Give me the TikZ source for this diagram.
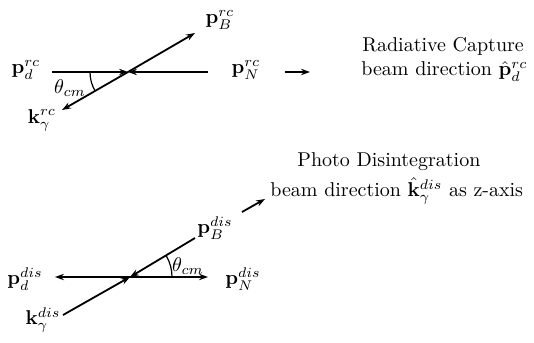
\documentclass[tikz,border=0pt]{standalone}
\usetikzlibrary{arrows.meta,calc}
\begin{document}
\begin{tikzpicture}[x=0.5pt,y=0.5pt,
  vec/.style={line width=0.9pt,-{Stealth[length=4.5pt,width=3.2pt]}},
  ln/.style={line width=0.9pt},
  arcline/.style={line width=0.6pt},
  lbl/.style={inner sep=0pt},
  txt/.style={inner sep=0pt,anchor=base west}]
\useasboundingbox (0,0) rectangle (534,342);
% ---- top: radiative capture
\coordinate (C1) at (128,270);
\coordinate (L1) at (52,270);
\coordinate (R1) at (208,270);
\coordinate (B1) at (195,309);
\coordinate (K1) at (62,232);
\draw[vec] (L1) -- (C1);
\draw[vec] (R1) -- (C1);
\draw[vec] (C1) -- (B1);
\draw[vec] (C1) -- (K1);
\draw[arcline] ($(C1)+(-38,0)$) arc[start angle=180,end angle=210,radius=38];
\node[lbl] (pd1) at (26,272) {$\mathbf{p}_d^{rc}$};
\node[lbl] (pN1) at (246,272) {$\mathbf{p}_N^{rc}$};
\node[lbl] (pB1) at (220,322) {$\mathbf{p}_B^{rc}$};
\node[lbl] (kg1) at (42,222) {$\mathbf{k}_\gamma^{rc}$};
\node[lbl] (th1) at (70,254) {$\theta_{cm}$};
\coordinate (A1s) at (285,270);
\coordinate (A1e) at (310,270);
\draw[vec] (A1s) -- (A1e);
\node[txt] (t1a) at (362,290) {Radiative Capture};
\node[txt] (t1b) at (361,266) {beam direction $\hat{\mathbf{p}}_d^{rc}$};
% ---- bottom: photo disintegration
\coordinate (C2) at (130,65);
\coordinate (L2) at (55,65);
\coordinate (R2) at (208,65);
\coordinate (B2) at (195,104);
\coordinate (K2) at (63,27);
\draw[vec] (C2) -- (L2);
\draw[vec] (C2) -- (R2);
\draw[vec] (B2) -- (C2);
\draw[vec] (K2) -- (C2);
\draw[arcline] ($(C2)+(42,0)$) arc[start angle=0,end angle=30,radius=42];
\node[lbl] (pd2) at (25,63) {$\mathbf{p}_d^{dis}$};
\node[lbl] (pN2) at (243,63) {$\mathbf{p}_N^{dis}$};
\node[lbl] (pB2) at (215,114) {$\mathbf{p}_B^{dis}$};
\node[lbl] (kg2) at (43,22) {$\mathbf{k}_\gamma^{dis}$};
\node[lbl] (th2) at (188,76) {$\theta_{cm}$};
\coordinate (A2s) at (242,130);
\coordinate (A2e) at (265,143);
\draw[vec] (A2s) -- (A2e);
\node[txt] (t2a) at (297,175) {Photo Disintegration};
\node[txt] (t2b) at (270,145) {beam direction $\hat{\mathbf{k}}_\gamma^{dis}$ as z-axis};
\end{tikzpicture}
\end{document}
